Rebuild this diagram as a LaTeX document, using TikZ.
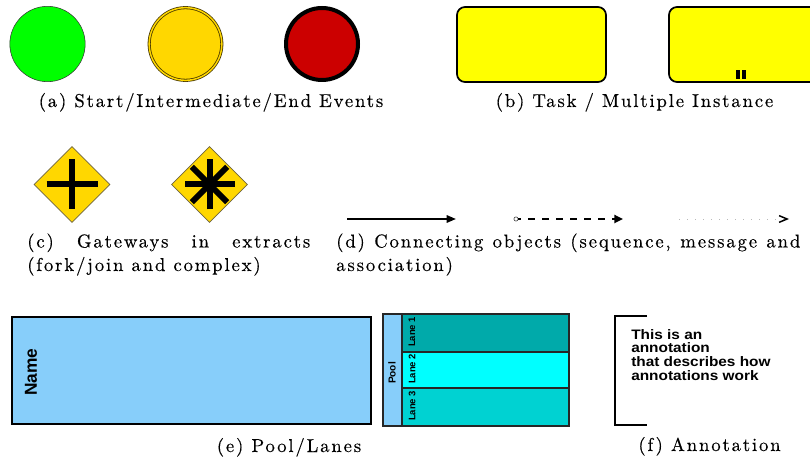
\documentclass[tikz,border=0pt]{standalone}
\usepackage{fontspec}
\usepackage{graphicx}
\setmainfont{lmroman10-regular.otf}
\newfontfamily\capfont{lmroman10-regular.otf}[LetterSpace=10,FakeBold=0.35]
\newfontfamily\hv{Liberation Sans}
\usetikzlibrary{shapes.geometric,arrows.meta,calc}
\definecolor{evgreen}{HTML}{00FF00}
\definecolor{evgold}{HTML}{FFD700}
\definecolor{evred}{HTML}{CC0000}
\definecolor{taskyel}{HTML}{FFFF00}
\definecolor{poolblue}{HTML}{87CEFA}
\definecolor{laneA}{HTML}{00AAAA}
\definecolor{laneB}{HTML}{00FFFF}
\definecolor{laneC}{HTML}{00D2D2}
\definecolor{gwborder}{HTML}{6E6440}
\definecolor{ringbrown}{HTML}{4A3A00}
\begin{document}
\begin{tikzpicture}[x=0.75pt,y=-0.75pt,
  caption/.style={font=\capfont\fontsize{14}{17}\selectfont, inner sep=0pt, anchor=base},
  evt/.style={circle, inner sep=0pt, minimum size=#1},
  taskbox/.style={rectangle, rounded corners=6pt, inner sep=0pt, minimum width=111.75pt,
    minimum height=56.25pt, fill=taskyel, draw=black, line width=1.3pt},
  gateway/.style={diamond, aspect=1, inner sep=0pt, minimum width=57pt, minimum height=57pt,
    fill=evgold, draw=gwborder, line width=0.5pt},
  gwmark/.style={line width=4.5pt},
  seqflow/.style={line width=1.5pt, -{Triangle[length=7pt,width=5.5pt]}},
  msgflow/.style={line width=1.6pt, dash pattern=on 5.25pt off 5.25pt, dash phase=3pt,
    -{Triangle[length=6.5pt,width=6pt]}},
  assocflow/.style={gray!55, line width=0.6pt, dash pattern=on 0.6pt off 5.4pt,
    -{Straight Barb[length=6pt,width=5pt,black,line width=1.1pt]}},
  lanebox/.style={rectangle, inner sep=0pt, draw=black!85, line width=0.9pt, minimum width=125.25pt},
  smalllabel/.style={font=\hv\bfseries\fontsize{7.1}{7.3}\selectfont, rotate=90, inner sep=0pt}
  ]
\useasboundingbox (0,0) rectangle (810,466);
\clip (0,0) rectangle (810,466);

% (a) events
\node[evt=56.5pt, fill=evgreen, draw=black!80, line width=0.4pt] (start) at (47.5,44) {};
\node[evt=54.5pt, fill=evgold, draw=ringbrown, double=evgold, double distance=1.1pt, line width=0.6pt] (inter) at (185.5,44) {};
\node[evt=54pt, fill=evred, draw=black, line width=3pt] (end) at (322,44) {};
\node[caption] (capa) at (211,107) {(a) Start/Intermediate/End Events};

% (b) tasks
\node[taskbox] (task1) at (531.5,44.5) {};
\node[taskbox] (task2) at (743.5,44.5) {};
\fill ($(task2.south)+(-7.5,-3.5)$) rectangle ($(task2.south)+(-3.5,-13)$);
\fill ($(task2.south)+(-1.5,-3.5)$) rectangle ($(task2.south)+(2.5,-13)$);
\node[caption] (capb) at (634.5,107) {(b) Task / Multiple Instance};

% (c) gateways
\node[gateway] (gw1) at (72,184.5) {};
\draw[gwmark] ($(gw1)+(-25.5,0)$) -- ($(gw1)+(25.5,0)$);
\draw[gwmark] ($(gw1)+(0,-25)$) -- ($(gw1)+(0,25)$);
\node[gateway] (gw2) at (209.5,184.5) {};
\foreach \a in {0,45,90,135}
  \draw[gwmark] ($(gw2)+(\a:25)$) -- ($(gw2)+(\a+180:25)$);
\node[caption, anchor=base west] (capc1) at (27,247.5) {\makebox[212.25pt][s]{(c) Gateways in extracts}};
\node[caption, anchor=base west] (capc2) at (27,271) {(fork/join and complex)};

% (d) connecting objects
\coordinate (seqA) at (347,219);
\coordinate (seqB) at (456,219);
\draw[seqflow] (seqA) -- (seqB);
\node[circle, draw=black!80, line width=0.4pt, inner sep=0pt, minimum size=3.2pt] (msgA) at (516,219) {};
\coordinate (msgB) at (623,219);
\draw[msgflow] (msgA) -- (msgB);
\coordinate (asA) at (679,219);
\coordinate (asB) at (789,219);
\draw[assocflow] (asA) -- (asB);
\node[caption, anchor=base west] (capd1) at (336,247.5) {\makebox[348pt][s]{(d) Connecting objects (sequence, message and}};
\node[caption, anchor=base west] (capd2) at (336,271) {association)};

% (e) pool / lanes
\node[rectangle, inner sep=0pt, minimum width=269.25pt, minimum height=80.25pt,
  fill=poolblue, draw=black, line width=1.2pt] (pool) at (191.5,370.5) {};
\node[font=\hv\bfseries\fontsize{13}{13}\selectfont, rotate=90, inner sep=0pt] (poolname) at (31,372) {Name};

\node[rectangle, inner sep=0pt, minimum width=14.25pt, minimum height=84pt,
  fill=poolblue, draw=black!85, line width=0.9pt] (poolhdr) at (392.5,370) {};
\node[lanebox, fill=laneA, minimum height=28.5pt] (lane1) at (485.5,333) {};
\node[lanebox, fill=laneB, minimum height=27pt] (lane2) at (485.5,370) {};
\node[lanebox, fill=laneC, minimum height=28.5pt] (lane3) at (485.5,407) {};
\node[smalllabel, font=\hv\bfseries\fontsize{7.6}{7.8}\selectfont] (poollbl) at (392,373) {Pool};
\node[smalllabel] (l1) at (412,332) {Lane 1};
\node[smalllabel] (l2) at (412,369) {Lane 2};
\node[smalllabel] (l3) at (412,406) {Lane 3};
\node[caption] (cape) at (289,452) {(e) Pool/Lanes};

% (f) annotation
\coordinate (anA) at (647,316);
\coordinate (anB) at (615,316);
\coordinate (anC) at (615,425);
\coordinate (anD) at (647,425);
\draw[line width=1.6pt] (anA) -- (anB) -- (anC) -- (anD);
\node[inner sep=0pt, anchor=north west] (antext) at (631,329)
  {\hv\bfseries\fontsize{10.3}{9.4}\selectfont\scalebox{1.12}[1]{\begin{tabular}{@{}l@{}}This is an\\annotation\\that describes how\\annotations work\end{tabular}}};
\node[caption] (capf) at (709.5,451) {(f) Annotation};
\end{tikzpicture}
\end{document}
